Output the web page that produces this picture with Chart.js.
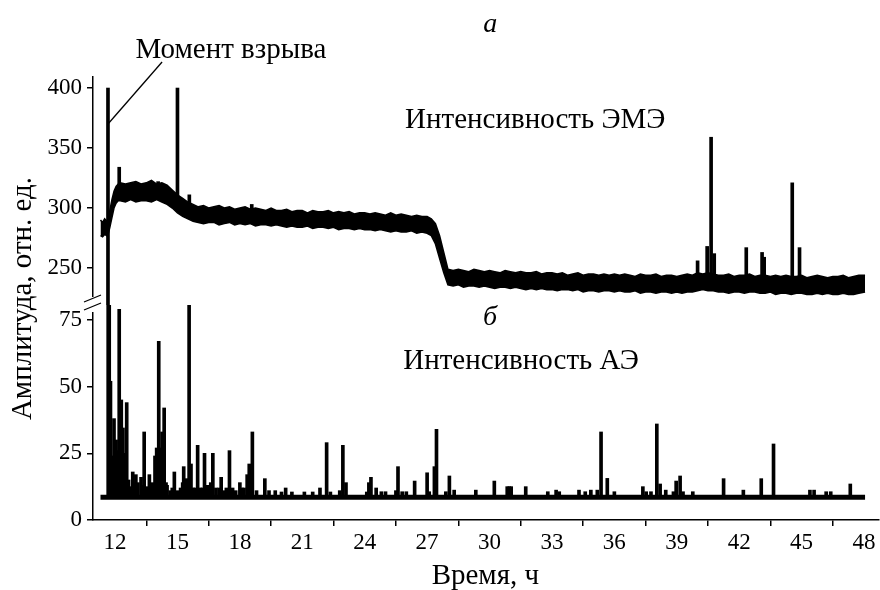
<!DOCTYPE html>
<html>
<head>
<meta charset="utf-8">
<script src="https://cdn.jsdelivr.net/npm/chart.js@4.4.1/dist/chart.umd.min.js"></script>
<style>
  html, body { margin: 0; background: #fff; }
</style>
</head>
<body>
<canvas id="chart" width="880" height="590"></canvas>
<script>
// --- Data ---
// ЭМЭ (upper panel): noisy band drawn between its upper and lower edge, hours / relative units
const emeT = [11.3, 11.4, 11.5, 11.6, 11.68, 11.75, 11.85, 11.95, 12.05, 12.15,
  12.25, 12.5, 12.75, 13.0, 13.25, 13.5, 13.75, 14.0, 14.25, 14.5, 14.75, 15.0, 15.25, 15.5, 15.75,
  16.0, 16.25, 16.5, 16.75, 17.0, 17.25, 17.5, 17.75, 18.0, 18.25, 18.5, 18.75, 19.0, 19.25, 19.5, 19.75,
  20.0, 20.25, 20.5, 20.75, 21.0, 21.25, 21.5, 21.75, 22.0, 22.25, 22.5, 22.75, 23.0, 23.25, 23.5, 23.75,
  24.0, 24.25, 24.5, 24.75, 25.0, 25.25, 25.5, 25.75, 26.0, 26.25, 26.5, 26.75, 27.0, 27.2, 27.4, 27.6, 27.8,
  28.0, 28.25, 28.5, 28.75, 29.0, 29.25, 29.5, 29.75, 30.0, 30.25, 30.5, 30.75, 31.0, 31.25, 31.5, 31.75,
  32.0, 32.25, 32.5, 32.75, 33.0, 33.25, 33.5, 33.75, 34.0, 34.25, 34.5, 34.75, 35.0, 35.25, 35.5, 35.75,
  36.0, 36.25, 36.5, 36.75, 37.0, 37.25, 37.5, 37.75, 38.0, 38.25, 38.5, 38.75, 39.0, 39.25, 39.5, 39.75,
  40.0, 40.25, 40.5, 40.75, 41.0, 41.25, 41.5, 41.75, 42.0, 42.25, 42.5, 42.75, 43.0, 43.25, 43.5, 43.75,
  44.0, 44.25, 44.5, 44.75, 45.0, 45.25, 45.5, 45.75, 46.0, 46.25, 46.5, 46.75, 47.0, 47.25, 47.5, 47.75, 48.05];
const emeHi = [290, 288, 291, 289, 291, 298, 307, 314, 318, 320,
  321, 320, 321, 322, 320, 321, 323, 320, 321, 319, 315, 311, 308, 305, 303,
  301, 302, 300, 301, 302, 300, 301, 299, 300, 301, 299, 300, 299, 298, 300, 298,
  298, 299, 297, 298, 298, 296, 298, 297, 297, 298, 296, 297, 296, 297, 295, 296,
  296, 295, 296, 295, 294, 296, 294, 295, 294, 293, 294, 293, 293, 291, 287, 277, 263,
  249, 248, 249, 248, 247, 249, 248, 247, 248, 247, 246, 248, 247, 246, 247, 246,
  246, 247, 245, 246, 246, 245, 246, 244, 245, 246, 244, 245, 245, 244, 245, 244,
  245, 244, 245, 244, 243, 245, 244, 244, 245, 243, 244, 244, 243, 244, 245, 244,
  246, 245, 246, 245, 244, 244, 245, 243, 244, 244, 245, 243, 244, 244, 243, 244,
  243, 244, 243, 243, 244, 242, 243, 244, 243, 242, 243, 243, 244, 242, 243, 244, 244];
const emeLo = [277, 276, 278, 277, 279, 284, 292, 300, 304, 306,
  306, 305, 307, 305, 306, 306, 305, 307, 305, 303, 300, 296, 293, 291, 289,
  288, 287, 288, 288, 286, 287, 288, 286, 287, 286, 287, 285, 286, 286, 285, 286,
  285, 284, 285, 284, 284, 285, 283, 284, 284, 283, 284, 282, 283, 283, 282, 283,
  282, 282, 281, 282, 281, 280, 281, 280, 280, 281, 279, 280, 279, 277, 270, 258, 246,
  236, 235, 236, 234, 235, 235, 234, 235, 234, 233, 234, 234, 233, 234, 233, 232,
  233, 232, 233, 232, 232, 231, 232, 232, 231, 232, 230, 231, 231, 230, 231, 231,
  230, 231, 230, 230, 231, 229, 230, 230, 229, 230, 230, 229, 230, 229, 230, 230,
  231, 232, 231, 231, 230, 230, 229, 230, 230, 229, 230, 230, 229, 229, 230, 228,
  229, 229, 228, 229, 229, 228, 228, 229, 228, 229, 228, 228, 229, 228, 228, 229, 230];

// ЭМЭ spikes: time, from, to
const emeSpikeT  = [11.66, 12.2, 14.07, 15.0, 15.57, 18.57, 40.0, 40.46, 40.65, 40.8, 42.34, 43.1, 43.2, 44.55, 44.9];
const emeSpikeLo = [215, 308, 312, 300, 297, 293, 238, 238, 238, 238, 238, 238, 238, 238, 238];
const emeSpikeHi = [400, 334, 322, 400, 311, 303, 256, 268, 359, 262, 267, 263, 259, 321, 267];

// АЭ (lower panel): baseline and spikes
const aeBase = 8.5;
const aeStart = 11.3;
const aeEnd = 48.05;
const aeT = [11.67, 11.72, 11.78, 11.85, 11.9, 11.95, 12.05, 12.1, 12.15, 12.2, 12.3, 12.38, 12.45, 12.5, 12.56, 12.65,
  12.75, 12.85, 12.9, 13.0, 13.05, 13.1, 13.25, 13.3, 13.4, 13.5, 13.55, 13.65, 13.75, 13.8, 13.92, 14.0, 14.05,
  14.1, 14.18, 14.26, 14.36, 14.45, 14.5, 14.65, 14.75, 14.85, 15.0, 15.15, 15.25, 15.3, 15.42, 15.5, 15.56, 15.65,
  15.75, 15.85, 15.97, 16.1, 16.2, 16.3, 16.45, 16.5, 16.6, 16.7, 16.85, 17.0, 17.1, 17.25, 17.35, 17.5, 17.65,
  17.8, 18.0, 18.1, 18.2, 18.35, 18.45, 18.6, 18.8,
  19.2, 19.4, 19.7, 20.0, 20.2, 20.5, 21.1, 21.5, 21.85, 22.17, 22.35, 22.8, 22.95, 23.1, 24.1, 24.2, 24.3, 24.55,
  24.8, 25.0, 25.5, 25.6, 25.8, 26.0, 26.4, 27.0, 27.1, 27.35, 27.45, 27.9, 28.07, 28.3, 29.34, 30.23, 30.85, 30.95,
  31.04, 31.74, 32.8, 33.2, 33.35, 34.3, 34.6, 34.87, 35.18, 35.36, 35.66, 36.0, 37.37, 37.53, 37.76, 38.04, 38.2,
  38.47, 38.84, 38.97, 39.16, 39.3, 39.77, 41.25, 42.2, 43.06, 43.65, 45.4, 45.6, 46.18, 46.4, 47.34];
const aeV = [81, 81, 52, 24, 21, 38, 30, 26, 20, 79, 45, 34.5, 25, 22, 44, 15,
  12.5, 18, 14, 17, 12, 14, 16, 13, 33, 12.5, 11, 17, 12, 14, 24, 27, 22,
  67, 27, 33, 42, 14, 13, 11, 12, 18, 11, 12, 14, 20, 15.5, 13, 81, 21,
  12, 12, 28, 12, 12, 25, 13, 12, 14, 25, 12, 12, 16, 11, 12, 26, 12,
  11, 14, 12, 12, 17, 21, 33, 11,
  15.5, 11, 11, 10.5, 12, 10.5, 10.5, 10.5, 12, 29, 10.5, 11, 28, 14, 10.5, 14, 16, 12,
  10.6, 10.6, 11, 20, 10.6, 10.6, 14.6, 17.7, 10.6, 20, 34, 10.6, 16.5, 11.2, 11.2, 14.6, 12.5, 12.5,
  12.5, 12.5, 10.6, 11.2, 10.6, 11.2, 10.6, 11.2, 11.2, 33, 15.6, 10.6, 12.5, 10.6, 10.6, 36, 13.5,
  11.2, 10.6, 14.6, 16.5, 10.6, 10.6, 15.5, 11.2, 15.5, 28.5, 11.2, 11.2, 10.6, 10.6, 13.5];

// Axes
const xTicks = [12, 15, 18, 21, 24, 27, 30, 33, 36, 39, 42, 45, 48];
const upTicks = [250, 300, 350, 400];
const lowTicks = [0, 25, 50, 75];

const FONT = '"Liberation Serif", "DejaVu Serif", serif';

// --- Decorations: axis break, labels, titles ---
const decor = {
    id: 'decor',
    afterDraw(chart) {
        const { ctx, scales } = chart;
        const x = scales.x, yUp = scales.yUp, yLow = scales.yLow;
        const left = x.left;
        const yb = yUp.bottom;
        ctx.save();

        // axis break
        ctx.fillStyle = '#fff';
        ctx.fillRect(left - 3, yb - 8, 6, 15);
        ctx.strokeStyle = '#000';
        ctx.lineWidth = 1.3;
        ctx.beginPath();
        ctx.moveTo(left - 9, yb - 3); ctx.lineTo(left + 8, yb - 10);
        ctx.moveTo(left - 9, yb + 5); ctx.lineTo(left + 8, yb - 2);
        ctx.stroke();

        // explosion leader
        ctx.beginPath();
        ctx.moveTo(x.getPixelForValue(11.66), yUp.getPixelForValue(370));
        ctx.lineTo(x.getPixelForValue(14.26), yUp.getPixelForValue(421.7));
        ctx.stroke();

        ctx.fillStyle = '#000';
        ctx.textBaseline = 'alphabetic';
        ctx.textAlign = 'left';
        ctx.font = '29px ' + FONT;
        ctx.fillText('Момент взрыва', x.getPixelForValue(12.98), yUp.getPixelForValue(425));
        ctx.fillText('Интенсивность ЭМЭ', x.getPixelForValue(25.94), yUp.getPixelForValue(366.7));
        ctx.fillText('Интенсивность АЭ', x.getPixelForValue(25.85), yLow.getPixelForValue(56.6));

        ctx.textAlign = 'center';
        ctx.font = 'italic 28px ' + FONT;
        ctx.fillText('а', x.getPixelForValue(30.03), yUp.getPixelForValue(446.7));
        ctx.fillText('б', x.getPixelForValue(30.03), yLow.getPixelForValue(73.1));

        ctx.font = '29px ' + FONT;
        ctx.fillText('Время, ч', x.getPixelForValue(29.8), x.top + 64);

        ctx.translate(23, (yUp.top + yLow.bottom) / 2);
        ctx.rotate(-Math.PI / 2);
        ctx.textBaseline = 'middle';
        ctx.fillText('Амплитуда, отн. ед.', 0, 0);
        ctx.restore();
    }
};

function fixTicks(list) {
    return scale => { scale.ticks = list.map(v => ({ value: v })); };
}

const axisCommon = {
    border: { color: '#000', width: 1.5 },
    grid: { drawOnChartArea: false, tickLength: 6, color: '#000', lineWidth: 1.5 },
    ticks: { color: '#000', font: { family: FONT, size: 23 }, padding: 5 }
};

new Chart(document.getElementById('chart'), {
    type: 'line',
    data: {
        datasets: [
            {
                label: 'ЭМЭ верх',
                data: emeT.map((t, i) => ({ x: t, y: emeHi[i] })),
                yAxisID: 'yUp',
                borderColor: '#000',
                backgroundColor: '#000',
                borderWidth: 1.5,
                fill: '+1',
                pointRadius: 0,
                tension: 0
            },
            {
                label: 'ЭМЭ низ',
                data: emeT.map((t, i) => ({ x: t, y: emeLo[i] })),
                yAxisID: 'yUp',
                borderColor: '#000',
                borderWidth: 1.5,
                pointRadius: 0,
                tension: 0
            },
            {
                label: 'ЭМЭ пики',
                type: 'bar',
                data: emeSpikeT.map((t, i) => ({ x: t, y: [emeSpikeLo[i], emeSpikeHi[i]] })),
                yAxisID: 'yUp',
                backgroundColor: '#000',
                barThickness: 3,
                grouped: false
            },
            {
                label: 'АЭ фон',
                data: [{ x: aeStart, y: aeBase }, { x: aeEnd, y: aeBase }],
                yAxisID: 'yLow',
                borderColor: '#000',
                borderWidth: 5,
                pointRadius: 0
            },
            {
                label: 'АЭ',
                type: 'bar',
                data: aeT.map((t, i) => ({ x: t, y: [aeBase, aeV[i]] })),
                yAxisID: 'yLow',
                backgroundColor: '#000',
                barThickness: 3,
                grouped: false
            }
        ]
    },
    options: {
        responsive: false,
        animation: false,
        layout: { padding: { top: 77, right: 1, bottom: 0, left: 0 } },
        plugins: { legend: { display: false }, tooltip: { enabled: false } },
        scales: {
            x: {
                ...axisCommon,
                type: 'linear',
                min: 10.94,
                max: 48.72,
                offset: false,
                ticks: { ...axisCommon.ticks, padding: 3 },
                afterBuildTicks: fixTicks(xTicks),
                afterFit: s => { s.height = 70; }
            },
            yUp: {
                ...axisCommon,
                type: 'linear',
                position: 'left',
                stack: 'v',
                stackWeight: 228,
                weight: 2,
                min: 219.2,
                max: 409.2,
                afterBuildTicks: fixTicks(upTicks),
                afterFit: s => { s.width = 93; }
            },
            yLow: {
                ...axisCommon,
                type: 'linear',
                position: 'left',
                stack: 'v',
                stackWeight: 215,
                weight: 1,
                min: 0,
                max: 80.6,
                afterBuildTicks: fixTicks(lowTicks),
                afterFit: s => { s.width = 93; }
            }
        }
    },
    plugins: [decor]
});
</script>
</body>
</html>
